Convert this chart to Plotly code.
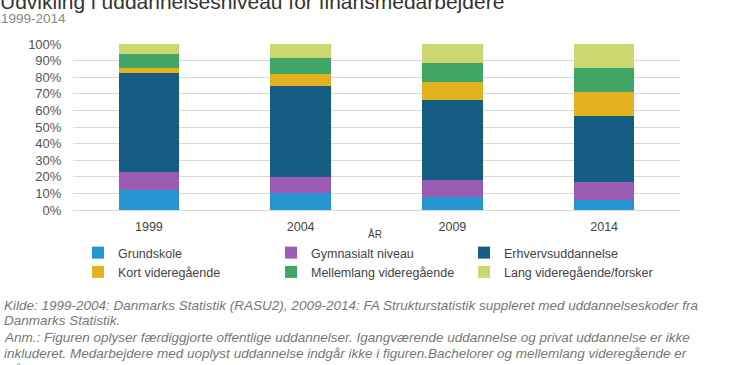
import plotly.graph_objects as go

years = ["1999", "2004", "2009", "2014"]
series_names = ["Grundskole", "Gymnasialt niveau", "Erhvervsuddannelse",
                "Kort videregående", "Mellemlang videregående", "Lang videregående/forsker"]
grundskole = [11.9, 10.1, 7.8, 6.0]
gymnasialt = [11.2, 10.0, 10.5, 11.1]
erhverv = [59.2, 54.7, 47.7, 39.6]
kort = [3.2, 7.1, 11.1, 14.1]
mellemlang = [8.6, 9.8, 11.6, 14.7]
lang = [5.9, 8.3, 11.3, 14.5]
colors = ["#2596D1", "#9B5BB3", "#155D82", "#E3B21E", "#41A566", "#CCD770"]
y_ticks = [0, 10, 20, 30, 40, 50, 60, 70, 80, 90, 100]
y_tick_labels = [f"{v}%" for v in y_ticks]

values = [grundskole, gymnasialt, erhverv, kort, mellemlang, lang]

fig = go.Figure()
for name, vals, col in zip(series_names, values, colors):
    fig.add_trace(go.Bar(x=years, y=vals, name=name, marker_color=col,
                         marker_line_width=0, width=0.4))

W, H = 730, 365
L, R, T, B = 73, 50, 44, 155
pw, ph = W - L - R, H - T - B

def px_x(p):
    return (p - L) / pw

def px_y(p):
    return (H - B - p) / ph

annotations = [
    dict(text="Udvikling i uddannelsesniveau for finansmedarbejdere", x=px_x(-2), y=px_y(15),
         xanchor="left", yanchor="bottom",
         font=dict(size=21, color="#333333", family="Liberation Sans")),
    dict(text="1999-2014", x=px_x(-1), y=px_y(19), xanchor="left", yanchor="middle",
         font=dict(size=13.5, color="#888888", family="Liberation Sans")),
    dict(text="ÅR", x=px_x(375), y=px_y(234), xanchor="center", yanchor="middle",
         font=dict(size=10, color="#444444", family="Liberation Sans")),
]
foot = [
    ("Kilde: 1999-2004: Danmarks Statistik (RASU2), 2009-2014: FA Strukturstatistik suppleret med uddannelseskoder fra", 305),
    ("Danmarks Statistik.", 320),
    ("Anm.: Figuren oplyser færdiggjorte offentlige uddannelser. Igangværende uddannelse og privat uddannelse er ikke", 337),
    ("inkluderet. Medarbejdere med uoplyst uddannelse indgår ikke i figuren.Bachelorer og mellemlang videregående er", 353),
    ("slået sammen.", 369),
]
for txt, py in foot:
    annotations.append(dict(text="<i>" + txt + "</i>", x=px_x(2), y=px_y(py), xanchor="left",
                            yanchor="middle",
                            font=dict(size=13.5, color="#777777", family="Liberation Sans")))
for a in annotations:
    a.update(xref="paper", yref="paper", showarrow=False)

fig.update_layout(
    width=W, height=H,
    margin=dict(l=L, r=R, t=T, b=B, autoexpand=False),
    barmode="stack",
    plot_bgcolor="white", paper_bgcolor="white",
    font=dict(family="Liberation Sans", color="#444444"),
    showlegend=True,
    legend=dict(orientation="h", x=px_x(78), y=px_y(238), xanchor="left", yanchor="top",
                entrywidth=148, entrywidthmode="pixels", traceorder="normal",
                font=dict(size=12.5, color="#444444")),
    annotations=annotations,
    xaxis=dict(showgrid=False, showline=True, linecolor="#d9d9d9", linewidth=1,
               tickfont=dict(size=12.5, color="#444444"), ticks="outside", ticklen=5,
               tickcolor="rgba(0,0,0,0)"),
    yaxis=dict(range=[0, 100], tickvals=y_ticks, ticktext=y_tick_labels, showgrid=True,
               gridcolor="#d9d9d9", zeroline=False, ticks="outside", ticklen=8,
               tickcolor="rgba(0,0,0,0)",
               tickfont=dict(size=13, color="#555555")),
)

fig.write_html("out.html", config={"displayModeBar": False},
               post_script="document.body.style.margin='0';document.body.style.overflow='hidden';")
